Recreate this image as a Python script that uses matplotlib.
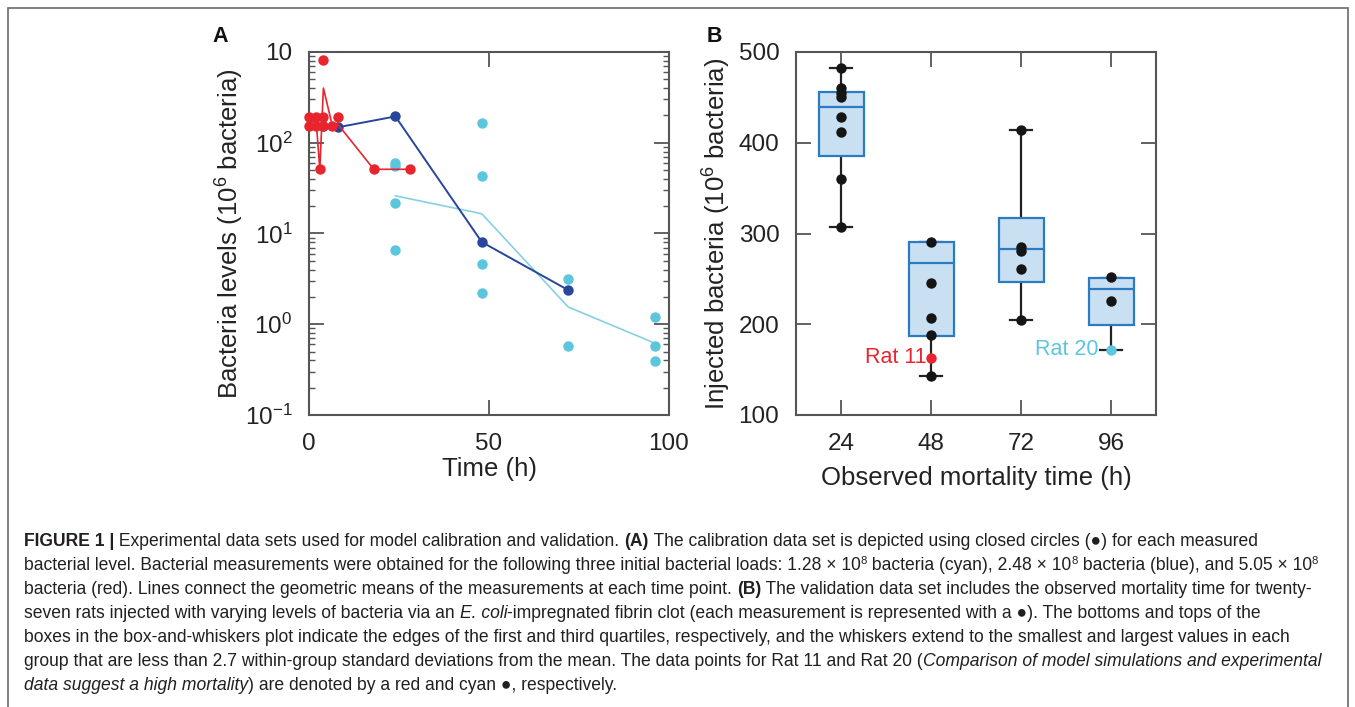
import numpy as np
import matplotlib
matplotlib.use("Agg")
import matplotlib.pyplot as plt
from matplotlib import font_manager
from matplotlib.patches import Rectangle
from matplotlib.ticker import NullFormatter

# ---- Panel A data (10^6 bacteria) ----
cyan_t = [24, 24, 24, 24, 48, 48, 48, 48, 72, 72, 96, 96, 96]
cyan_v = [60, 55, 21.7, 6.6, 165, 43, 4.6, 2.2, 3.15, 0.58, 1.2, 0.58, 0.39]
cyan_mean_t = [24, 48, 72, 96]
cyan_mean_v = [26, 16.5, 1.55, 0.62]

blue_t = [4, 8, 24, 48, 72]
blue_v = [153, 148, 195, 8.05, 2.38]

red_t = [0, 0, 2, 2, 3, 4, 4, 4, 6.5, 8, 18, 28]
red_v = [192, 153, 192, 153, 51, 192, 153, 810, 153, 192, 51, 51]
red_mean_t = [0, 2, 3, 4, 6.5, 8, 18, 28]
red_mean_v = [171, 171, 51, 400, 153, 160, 51, 51]

# ---- Panel B data (10^6 bacteria) ----
groups = ["24", "48", "72", "96"]
q1 = [385, 187, 247, 199]
med = [439, 267, 283, 239]
q3 = [456, 291, 317, 251]
whis_lo = [307, 143, 205, 172]
whis_hi = [482, 291, 414, 251]
pts = [
    [482, 460, 455, 450, 428, 412, 360, 307],
    [291, 245, 207, 188, 143],
    [414, 285, 281, 261, 205],
    [252, 226],
]
rat11 = 163   # group 48
rat20 = 172   # group 96

RED = "#e8242c"
BLUE = "#27469c"
CYAN = "#5cc6dd"
CYAN_LINE = "#86d0e2"
BOX_FACE = "#c9e0f2"
BOX_EDGE = "#2a7bc2"
DARK = "#222222"
AXC = "#555555"

plt.rcParams["font.family"] = ["Liberation Sans", "DejaVu Sans"]
plt.rcParams["mathtext.fontset"] = "custom"
plt.rcParams["mathtext.rm"] = "Liberation Sans"
plt.rcParams["mathtext.it"] = "Liberation Sans:italic"
plt.rcParams["mathtext.bf"] = "Liberation Sans:bold"

W, H = 1355, 707
fig = plt.figure(figsize=(W / 100, H / 100), dpi=100)


def style_axes(ax):
    for s in ax.spines.values():
        s.set_color(AXC)
        s.set_linewidth(1.5)
    ax.tick_params(which="both", direction="in", top=True, right=True,
                   color=AXC, width=1.3, labelsize=17.5, labelcolor=DARK)
    ax.tick_params(which="major", length=11)
    ax.tick_params(which="minor", length=4, width=1.0)
    ax.tick_params(axis="y", pad=12)
    ax.tick_params(axis="x", pad=13)


# ---- Panel A ----
ax1 = fig.add_axes([309 / W, 1 - 415 / H, 360 / W, 363 / H])
ax1.plot(cyan_mean_t, cyan_mean_v, color=CYAN_LINE, lw=1.2, zorder=2)
ax1.plot(cyan_t, cyan_v, "o", color=CYAN, ms=7.5, mec="none", zorder=3, clip_on=False)
ax1.plot(blue_t, blue_v, "-", color=BLUE, lw=1.4, zorder=4)
ax1.plot(blue_t, blue_v, "o", color=BLUE, ms=7.5, mec="none", zorder=5, clip_on=False)
ax1.plot(red_mean_t, red_mean_v, "-", color=RED, lw=1.2, zorder=6)
ax1.plot(red_t, red_v, "o", color=RED, ms=7.5, mec="none", zorder=7, clip_on=False)
ax1.set_yscale("log")
ax1.set_ylim(0.1, 1000)
ax1.set_xlim(0, 100)
ax1.set_xticks([0, 50, 100])
ax1.set_yticks([0.1, 1, 10, 100, 1000])
ax1.set_yticklabels(["10$^{-1}$", "10$^{0}$", "10$^{1}$", "10$^{2}$", "10"])
ax1.yaxis.set_minor_formatter(NullFormatter())
style_axes(ax1)
ax1.set_xlabel("Time (h)", fontsize=18.5, color=DARK)
ax1.set_ylabel("Bacteria levels (10$^6$ bacteria)", fontsize=18.5, color=DARK)
ax1.xaxis.set_label_coords(0.5, -0.115)
ax1.yaxis.set_label_coords(-0.175, 0.5)
fig.text(220 / W, 1 - 36 / H, "A", fontsize=15.5, fontweight="bold",
         ha="center", va="center", color="#111111")

# ---- Panel B ----
ax2 = fig.add_axes([796 / W, 1 - 415 / H, 360 / W, 363 / H])
pos = np.arange(1, len(groups) + 1)
stats = [dict(med=m, q1=a, q3=b, whislo=lo, whishi=hi, fliers=[])
         for m, a, b, lo, hi in zip(med, q1, q3, whis_lo, whis_hi)]
bp = ax2.bxp(stats, positions=pos, widths=0.5, patch_artist=True,
             showfliers=False, capwidths=0.25, manage_ticks=False,
             boxprops=dict(facecolor=BOX_FACE, edgecolor=BOX_EDGE, linewidth=1.6),
             medianprops=dict(color=BOX_EDGE, linewidth=1.6),
             whiskerprops=dict(color=DARK, linewidth=1.6),
             capprops=dict(color=DARK, linewidth=1.6))
for b in bp["boxes"]:
    b.set_zorder(3)
for m in bp["medians"]:
    m.set_zorder(4)
for p, vals in zip(pos, pts):
    ax2.plot([p] * len(vals), vals, "o", color="#151515", ms=7.5, mec="none", zorder=6)
ax2.plot([2], [rat11], "o", color=RED, ms=7.5, mec="none", zorder=6)
ax2.plot([4], [rat20], "o", color=CYAN, ms=7.5, mec="none", zorder=6)
ax2.text(1.955, rat11, "Rat 11", color=RED, fontsize=15.5, ha="right", va="center", zorder=7)
ax2.text(3.86, rat20, "Rat 20", color=CYAN, fontsize=15.5, ha="right", va="center", zorder=7)
ax2.set_xlim(0.5, 4.5)
ax2.set_ylim(100, 500)
ax2.set_xticks(pos)
ax2.set_xticklabels(groups)
ax2.set_yticks([100, 200, 300, 400, 500])
style_axes(ax2)
ax2.set_xlabel("Observed mortality time (h)", fontsize=18.5, color=DARK)
ax2.set_ylabel("Injected bacteria (10$^6$ bacteria)", fontsize=18.5, color=DARK)
ax2.xaxis.set_label_coords(0.5, -0.14)
ax2.yaxis.set_label_coords(-0.175, 0.5)
fig.text(714 / W, 1 - 36 / H, "B", fontsize=15.5, fontweight="bold",
         ha="center", va="center", color="#111111")

# ---- frame around figure + caption ----
fig.add_artist(Rectangle((8 / W, -0.05), (1348 - 8) / W, 1.05 - 8 / H,
                         transform=fig.transFigure, fill=False,
                         edgecolor="#6a6a6a", lw=1.2))

names = {f.name for f in font_manager.fontManager.ttflist}
cap_font = ["Liberation Sans Narrow", "DejaVu Sans"] if "Liberation Sans Narrow" in names \
    else ["Liberation Sans", "DejaVu Sans"]
CAP_COL = "#231f20"

caption = [
    [("FIGURE 1 |", "b"), (" Experimental data sets used for model calibration and validation. ", ""),
     ("(A)", "b"), (" The calibration data set is depicted using closed circles (\u25cf) for each measured", "")],
    [("bacterial level. Bacterial measurements were obtained for the following three initial bacterial loads: 1.28 \u00d7 10", ""),
     ("8", "s"), (" bacteria (cyan), 2.48 \u00d7 10", ""), ("8", "s"),
     (" bacteria (blue), and 5.05 \u00d7 10", ""), ("8", "s")],
    [("bacteria (red). Lines connect the geometric means of the measurements at each time point. ", ""),
     ("(B)", "b"), (" The validation data set includes the observed mortality time for twenty-", "")],
    [("seven rats injected with varying levels of bacteria via an ", ""), ("E. coli", "i"),
     ("-impregnated fibrin clot (each measurement is represented with a \u25cf). The bottoms and tops of the", "")],
    [("boxes in the box-and-whiskers plot indicate the edges of the first and third quartiles, respectively, and the whiskers extend to the smallest and largest values in each", "")],
    [("group that are less than 2.7 within-group standard deviations from the mean. The data points for Rat 11 and Rat 20 (", ""),
     ("Comparison of model simulations and experimental", "i")],
    [("data suggest a high mortality", "i"), (") are denoted by a red and cyan \u25cf, respectively.", "")],
]
cap_y = [541, 565, 589, 613, 637, 661, 685]
cap_end = [1337, 1337, 1320, 1290, 1336, 1340]   # right end of lines 1-6 in the reference

renderer = fig.canvas.get_renderer()


def seg_props(style, size):
    kw = dict(fontsize=size, color=CAP_COL, family=cap_font)
    if style == "b":
        kw["fontweight"] = "bold"
    elif style == "i":
        kw["fontstyle"] = "italic"
    elif style == "s":
        kw["fontsize"] = size * 0.65
    return kw


def text_width(txt, kw):
    t1 = fig.text(0, 0, txt + "|", **kw)
    t2 = fig.text(0, 0, "|", **kw)
    w = t1.get_window_extent(renderer).width - t2.get_window_extent(renderer).width
    t1.remove()
    t2.remove()
    return w


# pick one caption size so that every line fits inside the frame
base = 10.0
ratios = []
for line, end in zip(caption[:6], cap_end):
    w = sum(text_width(s, seg_props(st, base)) for s, st in line)
    ratios.append((end - 24) / w)
cap_size = base * min(ratios)

for line, yc in zip(caption, cap_y):
    x = 24.0
    for txt, st in line:
        kw = seg_props(st, cap_size)
        y = yc + 5
        if st == "s":
            y -= cap_size * 0.5
        fig.text(x / W, 1 - y / H, txt, va="baseline", ha="left", **kw)
        x += text_width(txt, kw)

fig.savefig("out.png", dpi=100)
